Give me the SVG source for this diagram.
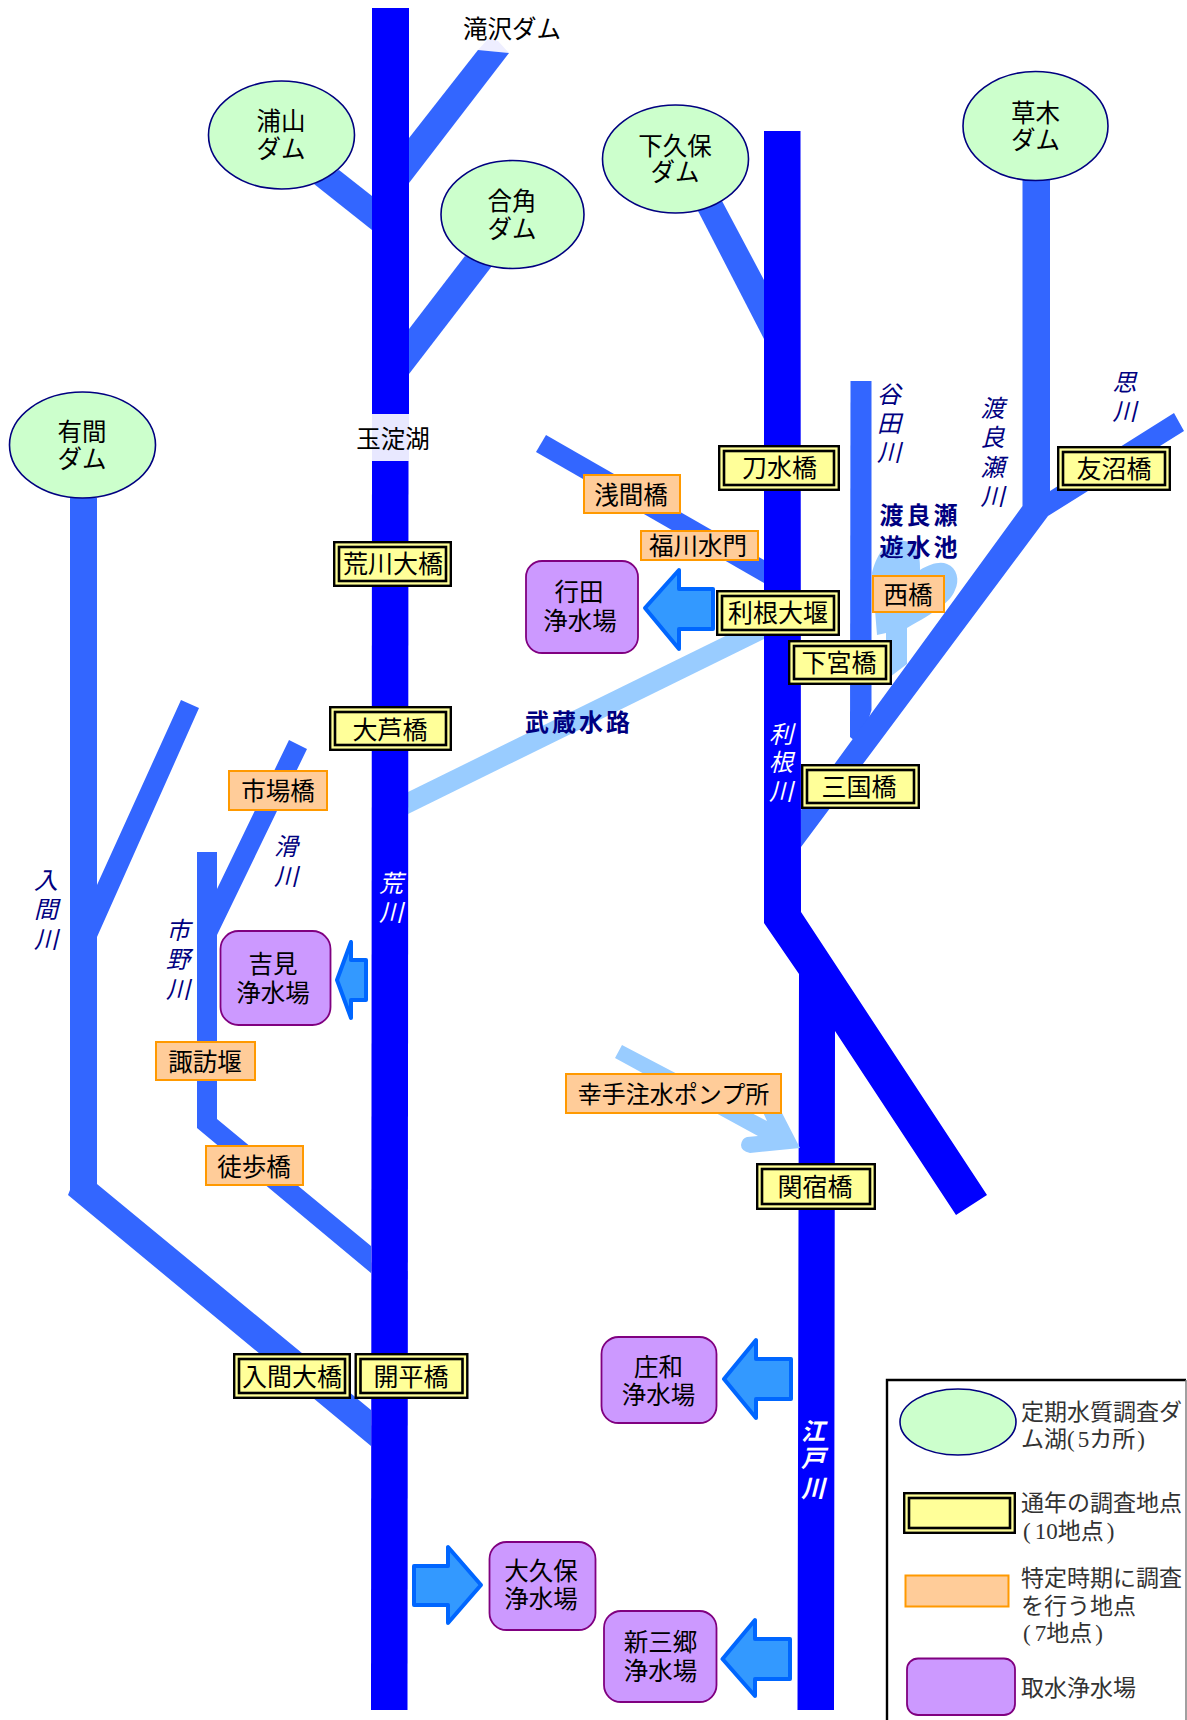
<svg xmlns="http://www.w3.org/2000/svg" width="1187" height="1720" viewBox="0 0 1187 1720">
<style>
text{font-family:"Noto Sans CJK JP","Noto Sans CJK SC",sans-serif;font-size:24.500px;fill:#000;text-anchor:middle}
.br{font-size:25px}
.main{fill:#0000ff}.trib{fill:#3366ff}.canal{fill:#99ccff}
.dam{fill:#ccffcc;stroke:#000080;stroke-width:1.6}
.outer{fill:#ffff99;stroke:#000;stroke-width:2.4}
.inner{fill:#ffff99;stroke:#000;stroke-width:2.6}
.spot{fill:#ffcc99;stroke:#ff9900;stroke-width:2}
.plant{fill:#cc99ff;stroke:#800080;stroke-width:1.8}
.arrow{fill:#3399ff;stroke:#0066ff;stroke-width:4;stroke-linejoin:round}
.riv{font-style:italic;fill:#000080;font-size:24px}
.rivw{font-style:italic;fill:#fff;font-size:24px}
.bold{font-weight:700;fill:#000080;font-size:24px;letter-spacing:3px}
.leg{font-size:23px;text-anchor:start;fill:#333;font-family:"Liberation Serif","Noto Sans CJK JP",serif}
</style>
<g id="connectors">
<polygon fill="#eeeeff" points="478,50 488,39 498,41 509,53"/>
<polygon class="trib" points="478,50 509,53 409,183 409,138"/>
<polygon class="trib" points="314,184 339,170 372,196 372,230"/>
<polygon class="trib" points="465,256 492,266 409,374 409,329"/>
<polygon class="trib" points="698,211 722,201 764,280 764,339"/>
<polygon class="trib" points="546,435 764,560 764,583 536,452"/>
<polygon class="canal" points="408,792 764,617 764,639 408,814"/>
<path class="canal" d="M872,573 C876,556 886,541 897,540 C912,540 921,548 920,570 C930,564 940,561 947,564 C957,568 960,580 955,590 C950,603 935,612 907,628 L907,664 L886,680 L886,633 L877,635 Z"/>
<polygon class="trib" points="850.500,381 871.500,381 871.500,710 860,745 850,737"/>
<polygon class="trib" points="1022.500,180 1050,180 1050,491 1174,413 1184,431 1048,516 801,847 801,810 1022.500,506"/>
<polygon class="trib" points="70,498 97,498 97,885 181,700 199,708 97,937 97,1184 371,1410 371,1446 68,1195 70,1190"/>
<polygon class="trib" points="197,852 217,852 217,889 289,740 307,749 217,935 217,1119 371,1246 371,1273 197,1128"/>
<polygon class="main" points="372,8 409,8 409,414 372,414"/>
<rect x="372" y="414" width="37" height="47" fill="#e8e8ff"/>
<polygon class="main" points="372,461 408.500,461 407.500,1710 371,1710"/>
<polygon class="main" points="764,131 800.500,131 801,912 987,1195 956,1215 835,1031 834,1710 797.500,1710 799,974 764,923"/>
<path class="canal" d="M622,1045 L767,1121 L762,1110 L778,1105 L782,1113 L800,1148 L750,1153 Q741,1151 741,1145 Q742,1138 747,1137 L758,1136 L615,1058 Z"/>
</g>
<g id="legend-frame"><path d="M887,1720V1380H1186" fill="none" stroke="#000" stroke-width="2.400"/><path d="M1186,1380V1720" fill="none" stroke="#808080" stroke-width="1.500"/></g>
<g id="dam-urayama"><ellipse class="dam" cx="281.500" cy="135" rx="73" ry="54"/><text><tspan x="281" y="130">浦山</tspan><tspan x="281" y="158">ダム</tspan></text></g>
<g id="dam-kakuma"><ellipse class="dam" cx="512.500" cy="214.500" rx="71.500" ry="54"/><text><tspan x="512" y="210">合角</tspan><tspan x="512" y="238">ダム</tspan></text></g>
<g id="dam-arima"><ellipse class="dam" cx="82.500" cy="445" rx="73" ry="53"/><text><tspan x="82" y="441">有間</tspan><tspan x="82" y="468">ダム</tspan></text></g>
<g id="dam-shimokubo"><ellipse class="dam" cx="675.500" cy="159" rx="73" ry="54"/><text><tspan x="675" y="155">下久保</tspan><tspan x="675" y="181">ダム</tspan></text></g>
<g id="dam-kusaki"><ellipse class="dam" cx="1035.500" cy="126" rx="72.500" ry="54.500"/><text><tspan x="1035.500" y="122">草木</tspan><tspan x="1035.500" y="149">ダム</tspan></text></g>
<g id="label-takizawa"><text x="512" y="38">滝沢ダム</text></g>
<g id="label-tamayodo"><text x="393" y="448">玉淀湖</text></g>
<g id="br-arakawaohashi"><rect class="outer" x="334.200" y="542.200" width="116.600" height="43.600"/><rect class="inner" x="339" y="547" width="107" height="34"/><text class="br" x="393" y="573">荒川大橋</text></g>
<g id="br-oashi"><rect class="outer" x="330.200" y="707.200" width="120.600" height="42.600"/><rect class="inner" x="335" y="712" width="111" height="33"/><text class="br" x="390" y="739">大芦橋</text></g>
<g id="br-tosui"><rect class="outer" x="719.200" y="446.200" width="119.600" height="43.600"/><rect class="inner" x="724" y="451" width="110" height="34"/><text class="br" x="779.500" y="477">刀水橋</text></g>
<g id="br-tomonuma"><rect class="outer" x="1058.200" y="447.200" width="111.600" height="42.600"/><rect class="inner" x="1063" y="452" width="102" height="33"/><text class="br" x="1114" y="478">友沼橋</text></g>
<g id="br-toneozeki"><rect class="outer" x="717.200" y="591.200" width="121.600" height="43.600"/><rect class="inner" x="722" y="596" width="112" height="34"/><text class="br" x="778" y="622">利根大堰</text></g>
<g id="br-shimomiya"><rect class="outer" x="789.200" y="641.200" width="101.600" height="42.600"/><rect class="inner" x="794" y="646" width="92" height="33"/><text class="br" x="839" y="672">下宮橋</text></g>
<g id="br-mikuni"><rect class="outer" x="802.200" y="765.200" width="116.600" height="42.600"/><rect class="inner" x="807" y="770" width="107" height="33"/><text class="br" x="859" y="796">三国橋</text></g>
<g id="br-sekiyado"><rect class="outer" x="757.200" y="1164.200" width="117.600" height="44.600"/><rect class="inner" x="762" y="1169" width="108" height="35"/><text class="br" x="815" y="1196">関宿橋</text></g>
<g id="br-irumaohashi"><rect class="outer" x="234.200" y="1354.200" width="115.600" height="43.600"/><rect class="inner" x="239" y="1359" width="106" height="34"/><text class="br" x="292" y="1386">入間大橋</text></g>
<g id="br-kaihei"><rect class="outer" x="355.700" y="1354.200" width="111.600" height="43.600"/><rect class="inner" x="360.500" y="1359" width="102" height="34"/><text class="br" x="411" y="1386">開平橋</text></g>
<g id="sp-asama"><rect class="spot" x="584" y="475" width="96" height="38"/><text x="631" y="504">浅間橋</text></g>
<g id="sp-fukukawa"><rect class="spot" x="641" y="531" width="117" height="29"/><text x="698" y="555">福川水門</text></g>
<g id="sp-nishi"><rect class="spot" x="873" y="576" width="71" height="36"/><text x="908" y="604">西橋</text></g>
<g id="sp-ichiba"><rect class="spot" x="229" y="771" width="98" height="39"/><text x="278" y="800">市場橋</text></g>
<g id="sp-suwa"><rect class="spot" x="156" y="1042" width="99" height="38"/><text x="205" y="1071">諏訪堰</text></g>
<g id="sp-toho"><rect class="spot" x="206" y="1146" width="97" height="39"/><text x="254" y="1176">徒歩橋</text></g>
<g id="sp-satte"><rect class="spot" x="566" y="1074" width="215" height="39"/><text style="font-size:24px" x="673.500" y="1103">幸手注水ポンプ所</text></g>
<g id="wp-gyoda"><rect class="plant" x="526" y="561" width="112" height="92" rx="16"/><text><tspan x="579" y="601">行田</tspan><tspan x="580" y="630">浄水場</tspan></text></g>
<g id="wp-yoshimi"><rect class="plant" x="220.500" y="931" width="110" height="94" rx="18"/><text><tspan x="273" y="973">吉見</tspan><tspan x="273" y="1002">浄水場</tspan></text></g>
<g id="wp-showa"><rect class="plant" x="601.500" y="1337" width="115" height="86" rx="17"/><text><tspan x="658.500" y="1376">庄和</tspan><tspan x="658.500" y="1404">浄水場</tspan></text></g>
<g id="wp-okubo"><rect class="plant" x="489.500" y="1542" width="106" height="88" rx="17"/><text><tspan x="541" y="1580">大久保</tspan><tspan x="541" y="1608">浄水場</tspan></text></g>
<g id="wp-shinmisato"><rect class="plant" x="604" y="1611" width="112.500" height="91" rx="17"/><text><tspan x="660.500" y="1651">新三郷</tspan><tspan x="660.500" y="1680">浄水場</tspan></text></g>
<g id="arrows">
<polygon class="arrow" points="645,608 679,570 679,589 713,589 713,629 679,629 679,649"/>
<polygon class="arrow" points="337,980 351,942 351,960 366,960 366,1000 351,1000 351,1018"/>
<polygon class="arrow" points="724,1379 756,1340 756,1359 791,1359 791,1399 756,1399 756,1418"/>
<polygon class="arrow" points="722.500,1659 755,1620 755,1639 790,1639 790,1679 755,1679 755,1696"/>
<polygon class="arrow" points="481,1585 448,1547 448,1566 414,1566 414,1605 448,1605 448,1623"/>
</g>
<g id="river-labels">
<text class="riv"><tspan x="46" y="889">入</tspan><tspan x="46" y="918">間</tspan><tspan x="46" y="948">川</tspan></text>
<text class="riv"><tspan x="178" y="939">市</tspan><tspan x="178" y="968">野</tspan><tspan x="178" y="998">川</tspan></text>
<text class="riv"><tspan x="286" y="855">滑</tspan><tspan x="286" y="885">川</tspan></text>
<text class="rivw"><tspan x="391" y="892">荒</tspan><tspan x="391" y="921">川</tspan></text>
<text class="rivw"><tspan x="781" y="743">利</tspan><tspan x="781" y="771">根</tspan><tspan x="781" y="800">川</tspan></text>
<text class="rivw" font-weight="700"><tspan x="813" y="1440">江</tspan><tspan x="813" y="1467">戸</tspan><tspan x="813" y="1497">川</tspan></text>
<text class="riv"><tspan x="889" y="403">谷</tspan><tspan x="889" y="432">田</tspan><tspan x="889" y="461">川</tspan></text>
<text class="riv"><tspan x="992.500" y="417">渡</tspan><tspan x="992.500" y="446">良</tspan><tspan x="992.500" y="476">瀬</tspan><tspan x="992.500" y="505">川</tspan></text>
<text class="riv"><tspan x="1124.500" y="391">思</tspan><tspan x="1124.500" y="420">川</tspan></text>
<text class="bold"><tspan x="920" y="524">渡良瀬</tspan><tspan x="920" y="556">遊水池</tspan></text>
<text class="bold" x="579" y="731">武蔵水路</text>
</g>
<g id="legend">
<ellipse class="dam" cx="958" cy="1422" rx="58" ry="33"/>
<rect class="outer" x="904.200" y="1493.200" width="110.600" height="39.600"/><rect class="inner" x="909" y="1498" width="101" height="30"/>
<rect class="spot" x="905.500" y="1575.500" width="103" height="31"/>
<rect class="plant" x="907" y="1658.500" width="108" height="56.500" rx="11"/>
<text class="leg"><tspan x="1021" y="1420">定期水質調査ダ</tspan><tspan x="1021" y="1447">ム湖(<tspan dx="3">5カ所</tspan><tspan dx="2">)</tspan></tspan></text>
<text class="leg"><tspan x="1021" y="1511">通年の調査地点</tspan><tspan x="1023" y="1539">(<tspan dx="4">10地点</tspan><tspan dx="3">)</tspan></tspan></text>
<text class="leg"><tspan x="1021" y="1586">特定時期に調査</tspan><tspan x="1021" y="1614">を行う地点</tspan><tspan x="1023" y="1641">(<tspan dx="4">7地点</tspan><tspan dx="3">)</tspan></tspan></text>
<text class="leg" x="1021" y="1696">取水浄水場</text>
</g>
</svg>
